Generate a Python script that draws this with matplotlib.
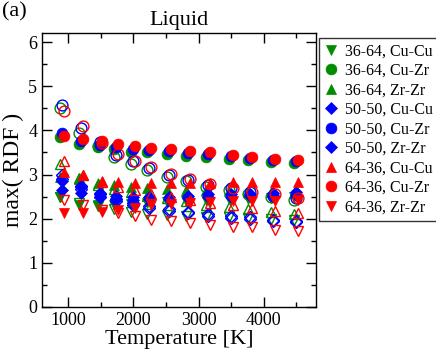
import matplotlib
matplotlib.use("Agg")
import matplotlib.pyplot as plt

plt.rcParams['font.family'] = ['Liberation Serif', 'DejaVu Serif']

# temperatures (slightly shifted per composition, as in the figure)
T_3664 = [870, 1170, 1460, 1710, 1960, 2210, 2510, 2810, 3110, 3460, 3760, 4110, 4460]
T_5050 = [900, 1200, 1490, 1740, 1990, 2240, 2540, 2840, 3140, 3490, 3790, 4140, 4490]
T_6436 = [930, 1230, 1520, 1770, 2020, 2270, 2570, 2870, 3170, 3520, 3820, 4170, 4520]

# filled symbols (legend entries)
g_cucu = [2.50, 2.32, 2.30, 2.30, 2.33, 2.36, 2.38, 2.40, 2.42, 2.45, 2.45, 2.48, 2.50]
g_cuzr = [3.85, 3.70, 3.63, 3.57, 3.52, 3.50, 3.47, 3.43, 3.40, 3.36, 3.33, 3.28, 3.26]
g_zrzr = [2.95, 2.90, 2.80, 2.76, 2.72, 2.70, 2.68, 2.66, 2.64, 2.62, 2.61, 2.60, 2.58]
b_cucu = [2.85, 2.72, 2.58, 2.52, 2.50, 2.50, 2.50, 2.52, 2.55, 2.56, 2.57, 2.58, 2.60]
b_cuzr = [3.95, 3.76, 3.68, 3.63, 3.58, 3.55, 3.53, 3.49, 3.46, 3.42, 3.38, 3.34, 3.31]
b_zrzr = [2.65, 2.58, 2.50, 2.44, 2.42, 2.44, 2.45, 2.48, 2.50, 2.50, 2.51, 2.52, 2.53]
r_cucu = [3.05, 3.00, 2.85, 2.82, 2.80, 2.80, 2.80, 2.80, 2.80, 2.82, 2.82, 2.82, 2.83]
r_cuzr = [3.87, 3.80, 3.75, 3.70, 3.64, 3.60, 3.57, 3.53, 3.50, 3.45, 3.40, 3.36, 3.33]
r_zrzr = [2.12, 2.12, 2.16, 2.20, 2.25, 2.30, 2.34, 2.36, 2.38, 2.40, 2.40, 2.41, 2.42]

# open symbols (no legend entries)
g_cucu_o = [2.50, 2.36, 2.28, 2.22, 2.16, 2.11, 2.08, 2.06, 2.04, 2.03, 2.01, 2.00, 1.98]
g_cuzr_o = [4.50, 3.95, 3.65, 3.40, 3.25, 3.10, 2.95, 2.85, 2.72, 2.65, 2.55, 2.50, 2.42]
g_zrzr_o = [3.25, 2.93, 2.77, 2.67, 2.60, 2.52, 2.46, 2.40, 2.31, 2.26, 2.21, 2.15, 2.11]
b_cucu_o = [3.00, 2.75, 2.55, 2.45, 2.35, 2.28, 2.22, 2.15, 2.10, 2.06, 2.03, 1.98, 1.95]
b_cuzr_o = [4.57, 4.05, 3.73, 3.45, 3.30, 3.15, 3.00, 2.88, 2.77, 2.70, 2.60, 2.52, 2.47]
b_zrzr_o = [2.90, 2.68, 2.50, 2.40, 2.31, 2.24, 2.18, 2.12, 2.06, 2.02, 2.00, 1.95, 1.92]
r_cucu_o = [3.30, 2.98, 2.82, 2.72, 2.65, 2.57, 2.50, 2.43, 2.35, 2.30, 2.25, 2.18, 2.14]
r_cuzr_o = [4.43, 4.10, 3.72, 3.47, 3.30, 3.17, 3.02, 2.90, 2.78, 2.70, 2.60, 2.55, 2.48]
r_zrzr_o = [2.42, 2.30, 2.20, 2.13, 2.05, 1.97, 1.94, 1.90, 1.86, 1.82, 1.82, 1.75, 1.73]

G, B, R = '#008c00', '#0000ff', '#ff0000'
ms = 7.8

fig = plt.figure(figsize=(4.36, 3.54), dpi=100)
ax = fig.add_axes([0.0963, 0.1328, 0.6285, 0.7732])

series = [
    (T_3664, g_cucu, g_cucu_o, G, 'v', '36-64, Cu-Cu'),
    (T_3664, g_cuzr, g_cuzr_o, G, 'o', '36-64, Cu-Zr'),
    (T_3664, g_zrzr, g_zrzr_o, G, '^', '36-64, Zr-Zr'),
    (T_5050, b_cucu, b_cucu_o, B, 'D', '50-50, Cu-Cu'),
    (T_5050, b_cuzr, b_cuzr_o, B, 'o', '50-50, Cu-Zr'),
    (T_5050, b_zrzr, b_zrzr_o, B, 'D', '50-50, Zr-Zr'),
    (T_6436, r_cucu, r_cucu_o, R, '^', '64-36, Cu-Cu'),
    (T_6436, r_cuzr, r_cuzr_o, R, 'o', '64-36, Cu-Zr'),
    (T_6436, r_zrzr, r_zrzr_o, R, 'v', '64-36, Zr-Zr'),
]

for t, yf, yo, c, m, lab in series:
    s = ms * 0.78 if m == 'D' else ms
    ax.plot(t, yo, ls='none', marker=m, ms=s, mfc='none', mec=c, mew=1.0)
    ax.plot(t, yf, ls='none', marker=m, ms=s, mfc=c, mec=c, mew=0.5, label=lab)

ax.set_xlim(600, 4800)
ax.set_ylim(0, 6.2)
ax.set_xticks([1000, 2000, 3000, 4000])
ax.set_xticks(range(1500, 4800, 1000), minor=True)
ax.set_yticks(range(0, 7))
ax.set_yticks([0.5 + i for i in range(6)], minor=True)
ax.tick_params(which='both', direction='in', top=True, right=True, labelsize=13)
ax.tick_params(which='major', length=7, width=1)
ax.tick_params(which='minor', length=3.5, width=1)
for sp in ax.spines.values():
    sp.set_linewidth(1)

ax.set_xlabel('Temperature [K]', fontsize=16, labelpad=1)
ax.set_ylabel('max( RDF )', fontsize=17, labelpad=3)
ax.set_title('Liquid', fontsize=16, pad=6)
fig.text(0.005, 0.995, '(a)', fontsize=16, ha='left', va='top')

leg = fig.legend(loc='upper left', bbox_to_anchor=(0.732, 0.893), fontsize=11.5,
                 frameon=True, fancybox=False, handlelength=0.8, handletextpad=0.45,
                 borderpad=0.35, labelspacing=0.22, borderaxespad=0, numpoints=1)
leg.get_frame().set_edgecolor('black')
leg.get_frame().set_linewidth(1)

fig.savefig('out.png', dpi=100)
